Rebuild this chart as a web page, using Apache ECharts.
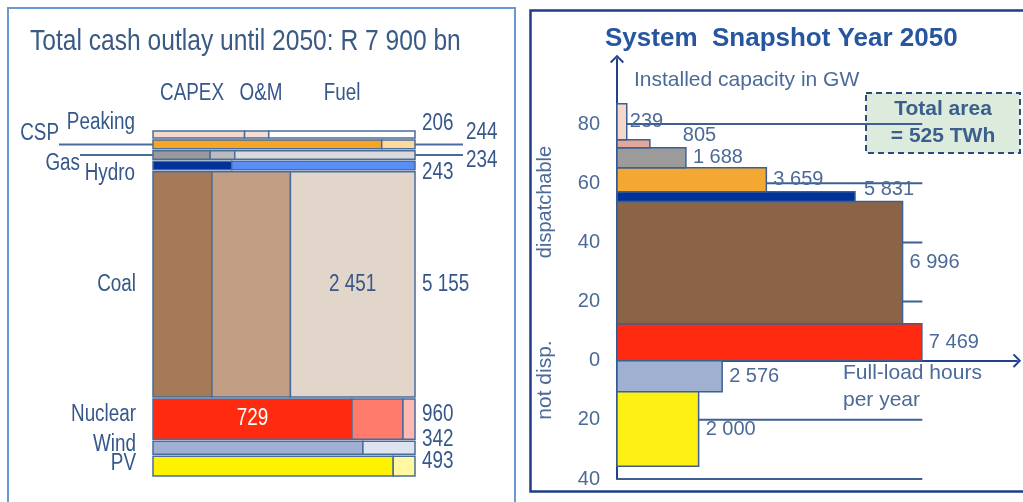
<!DOCTYPE html>
<html><head><meta charset="utf-8">
<script src="https://cdn.jsdelivr.net/npm/echarts@6/dist/echarts.min.js"></script>
<style>html,body{margin:0;padding:0;background:#fff}#c{width:1023px;height:502px}</style>
</head><body><div id="c"></div>
<script>
// ---------- Data: total cash outlay until 2050 (R bn) ----------
const techs = ['Peaking','CSP','Gas','Hydro','Coal','Nuclear','Wind','PV'];
const capex = [72, 213, 51, 73, 1160, 729, 274, 452];
const om    = [19, 31, 22, 170, 1544, 187, 68, 41];
const fuel  = [115, 0, 161, 0, 2451, 44, 0, 0];
const costParts = ['CAPEX','O&M','Fuel'];
const totalOutlayText = 'R 7 900 bn';

// ---------- Data: system snapshot year 2050 ----------
const dispNames = ['Nuclear','Coal','Hydro','CSP','Gas','Gas peaking','Peaking'];
const dispCapacityGW = [12.5, 41.3, 3.3, 8.1, 6.8, 2.7, 12.2];
const dispHours = [7469, 6996, 5831, 3659, 1688, 805, 239];
const ndNames = ['Wind','PV'];
const ndCapacityGW = [10.5, 25.2];
const ndHours = [2576, 2000];
const capTicks = [80, 60, 40, 20, -20, -40];
const totalAreaTWh = 525;

// ---------- Styles ----------
const SANS = '"Liberation Sans",Arial,sans-serif';
const NARROW_SCALE = 0.82;
const LEFT_TXT = '#35578a';
const RIGHT_TXT = '#4c6a98';
const leftColors = {
  Peaking: ['#f2d8cd','#f4ddd5','#ffffff'],
  CSP:     ['#f5a623','#fdd99b','#ffffff'],
  Gas:     ['#9a9a9a','#bcbcbc','#dadada'],
  Hydro:   ['#003399','#5b8ef5','#ffffff'],
  Coal:    ['#a67a58','#c29f84','#e2d5ca'],
  Nuclear: ['#ff2a10','#ff7c6c','#ffb9b1'],
  Wind:    ['#9fb0d2','#dde4ef','#ffffff'],
  PV:      ['#fff200','#fff8a0','#ffffff']
};
const dispColors = ['#ff2a10','#8b6448','#003399','#f2a833','#9b9b9b','#e3a797','#f5d8cc'];
const ndColors = ['#9fb0d0','#fff014'];
// label layout (pixel offsets, not data)
const nameLayout = {
  Peaking:{x:-18,dy:-12}, CSP:{x:-94,dy:-11,lead:true}, Gas:{x:-73,dy:9,lead:true}, Hydro:{x:-18,dy:8},
  Coal:{x:-17,dy:0}, Nuclear:{x:-17,dy:-4}, Wind:{x:-17,dy:-3}, PV:{x:-17,dy:-2}
};
const totalLayout = {
  Peaking:{x:7,dy:-11}, CSP:{x:51,dy:-12}, Gas:{x:51,dy:6}, Hydro:{x:7,dy:7},
  Coal:{x:7,dy:0}, Nuclear:{x:7,dy:-4}, Wind:{x:7,dy:-8}, PV:{x:7,dy:-4}
};
const innerLabels = {Coal:2, Nuclear:0};
const dispLabelNudge = {2:{dx:9,dy:-7}, 5:{dx:33,dy:-8}, 6:{dx:3,dy:0}};

function fmt(v){ return String(v).replace(/\B(?=(\d{3})+(?!\d))/g,' '); }
// narrow-looking text (Arial Narrow imitation)
function ntext(str, x, y, size, fill, align, extra){
  return Object.assign({type:'text', x:x, y:y, scaleX:NARROW_SCALE,
    style:{text:str, x:0, y:0, fontSize:size, fontFamily:SANS, fill:fill, align:align||'left', verticalAlign:'middle'}}, extra||{});
}

const totals = techs.map((t,i)=>capex[i]+om[i]+fuel[i]);
const cumStart = [];
const grandTotal = totals.reduce((a,v,i)=>{cumStart[i]=a; return a+v;},0);

function renderCost(params, api){
  const i = api.value(0);
  const t = techs[i];
  const parts = [capex[i], om[i], fuel[i]];
  const tot = totals[i];
  const p0 = api.coord([0, cumStart[i]]);
  const p1 = api.coord([1, cumStart[i] + tot]);
  const xL = p0[0], xR = p1[0], yT = p0[1] + 1, yB = p1[1] - 1, yC = (p0[1] + p1[1]) / 2;
  const kids = [];
  let acc = 0;
  parts.forEach((p,k)=>{
    if (p <= 0) return;
    const a = api.coord([acc/tot, 0])[0]; acc += p;
    const b = api.coord([acc/tot, 0])[0];
    kids.push({type:'rect', shape:{x:a, y:yT, width:b-a, height:yB-yT},
      style:{fill:leftColors[t][k], stroke:'#4a6c9c', lineWidth:1.5}});
    if (innerLabels[t] === k) {
      kids.push(ntext(fmt(p), (a+b)/2, yC, 23, t==='Nuclear' ? '#ffffff' : LEFT_TXT, 'center', {z2:10}));
    }
  });
  const nl = nameLayout[t], tl = totalLayout[t];
  kids.push(ntext(t, xL+nl.x, yC+nl.dy, 23, LEFT_TXT, 'right'));
  kids.push(ntext(fmt(tot), xR+tl.x, yC+tl.dy, 23, LEFT_TXT, 'left'));
  if (nl.lead) {
    kids.push({type:'line', shape:{x1:xL+nl.x, y1:yC, x2:xL, y2:yC}, style:{stroke:'#4a6c9c', lineWidth:2}});
    kids.push({type:'line', shape:{x1:xR, y1:yC, x2:xR+tl.x-3, y2:yC}, style:{stroke:'#4a6c9c', lineWidth:2}});
  }
  return {type:'group', children:kids};
}

function makeSnap(caps, hours, colors, dir, nudge){
  const start = [];
  caps.reduce((a,v,i)=>{start[i]=a; return a+v;},0);
  return function(params, api){
    const i = api.value(0);
    const p0 = api.coord([0, dir*start[i]]);
    const p1 = api.coord([hours[i], dir*(start[i]+caps[i])]);
    const y = Math.min(p0[1], p1[1]), h = Math.abs(p1[1]-p0[1]);
    const n = nudge[i] || {dx:7, dy:0};
    return {type:'group', children:[
      {type:'rect', shape:{x:p0[0], y:y, width:p1[0]-p0[0], height:h},
        style:{fill:colors[i], stroke:'#3d5f94', lineWidth:1.5}},
      {type:'text', style:{text:fmt(hours[i]), x:p1[0]+n.dx, y:y+h/2+n.dy, align:'left', verticalAlign:'middle',
        fontSize:20, fontFamily:SANS, fill:RIGHT_TXT}}
    ]};
  };
}

const gridEndHours = 7480;
function renderRule(params, api){
  const v = api.value(0);
  const a = api.coord([0, v]), b = api.coord([gridEndHours, v]);
  return {type:'line', shape:{x1:a[0], y1:a[1], x2:b[0], y2:b[1]}, style:{stroke:'#3d5f94', lineWidth:2}};
}

const chev = 'path://M0,10 L10,0 L20,10 L18,12 L10,4 L2,12 Z';

const chart = echarts.init(document.getElementById('c'), null, {renderer:'canvas'});
chart.setOption({
  animation:false,
  grid:[
    {left:153, top:130, width:262, height:347},
    {left:617, top:59, width:400, height:420}
  ],
  xAxis:[
    {gridIndex:0, type:'value', min:0, max:1, show:false},
    {gridIndex:1, type:'value', min:0, max:9800, splitLine:{show:false},
      axisLabel:{show:false}, axisTick:{show:false},
      axisLine:{show:true, onZero:true, symbol:['none', chev], symbolSize:[14,10],
        lineStyle:{color:'#23408f', width:2}}}
  ],
  yAxis:[
    {gridIndex:0, type:'value', min:0, max:grandTotal, inverse:true, show:false},
    {gridIndex:1, type:'value', min:-40, max:102, interval:20, splitLine:{show:false},
      axisTick:{show:false},
      axisLine:{show:true, symbol:['none', chev], symbolSize:[14,10], lineStyle:{color:'#23408f', width:2}},
      axisLabel:{margin:17, fontSize:20, fontFamily:SANS, color:RIGHT_TXT,
        formatter:(v)=> v > 90 ? '' : String(Math.abs(v))}}
  ],
  series:[
    {type:'custom', xAxisIndex:0, yAxisIndex:0, data:techs.map((t,i)=>[i]), renderItem:renderCost, z:3},
    {type:'custom', xAxisIndex:1, yAxisIndex:1, data:capTicks.map(v=>[v]), renderItem:renderRule, z:1},
    {type:'custom', xAxisIndex:1, yAxisIndex:1, data:dispNames.map((n,i)=>[i]),
      renderItem:makeSnap(dispCapacityGW, dispHours, dispColors, 1, dispLabelNudge), z:3},
    {type:'custom', xAxisIndex:1, yAxisIndex:1, data:ndNames.map((n,i)=>[i]),
      renderItem:makeSnap(ndCapacityGW, ndHours, ndColors, -1, {}), z:3}
  ],
  graphic:[
    {type:'rect', z:0, shape:{x:8, y:8, width:507, height:510}, style:{fill:'none', stroke:'#6a98d4', lineWidth:2}},
    {type:'rect', z:0, shape:{x:530.5, y:10.5, width:500, height:481}, style:{fill:'none', stroke:'#1f3c88', lineWidth:2.5}},
    ntext('Total cash outlay until 2050: ' + totalOutlayText, 30, 42, 30, '#3a5a84', 'left'),
    ntext(costParts[0], 192, 94, 23, LEFT_TXT, 'center'),
    ntext(costParts[1], 261, 94, 23, LEFT_TXT, 'center'),
    ntext(costParts[2], 342, 94, 23, LEFT_TXT, 'center'),
    {type:'text', x:605, y:39, style:{text:'System  Snapshot Year 2050', fontSize:26, fontWeight:'bold', fontFamily:SANS,
      fill:'#2756a0', verticalAlign:'middle'}},
    {type:'text', x:634, y:80, style:{text:'Installed capacity in GW', fontSize:21, fontFamily:SANS, fill:RIGHT_TXT, verticalAlign:'middle'}},
    {type:'text', x:843, y:373, style:{text:'Full-load hours', fontSize:21, fontFamily:SANS, fill:RIGHT_TXT, verticalAlign:'middle'}},
    {type:'text', x:843, y:400, style:{text:'per year', fontSize:21, fontFamily:SANS, fill:RIGHT_TXT, verticalAlign:'middle'}},
    {type:'text', x:545, y:202, rotation:Math.PI/2, style:{text:'dispatchable', fontSize:20, fontFamily:SANS, fill:RIGHT_TXT, align:'center', verticalAlign:'middle'}},
    {type:'text', x:545, y:380, rotation:Math.PI/2, style:{text:'not disp.', fontSize:21, fontFamily:SANS, fill:RIGHT_TXT, align:'center', verticalAlign:'middle'}},
    {type:'group', z:100, children:[
      {type:'rect', shape:{x:866, y:93, width:154, height:60}, style:{fill:'#dcebdc', stroke:'#2a4a7a', lineWidth:2, lineDash:[6,4]}},
      {type:'text', x:943, y:109, style:{text:'Total area', fontSize:21, fontWeight:'bold', fontFamily:SANS, fill:'#3a5f8c', align:'center', verticalAlign:'middle'}},
      {type:'text', x:943, y:136, style:{text:'= ' + totalAreaTWh + ' TWh', fontSize:21, fontWeight:'bold', fontFamily:SANS, fill:'#3a5f8c', align:'center', verticalAlign:'middle'}}
    ]}
  ]
});
</script></body></html>
